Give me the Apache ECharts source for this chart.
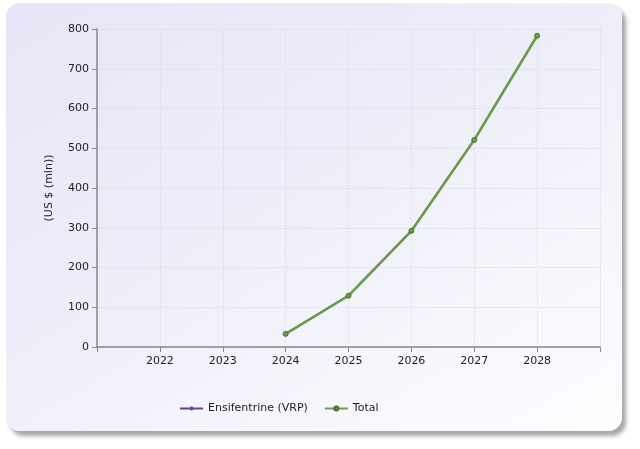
<!DOCTYPE html>
<html>
<head>
<meta charset="utf-8">
<script src="https://cdn.jsdelivr.net/npm/echarts@6/dist/echarts.min.js"></script>
<style>
  html, body { margin:0; padding:0; background:#fff; }
  #wrap { position:relative; width:640px; height:449px; overflow:hidden; }
  #panel {
    position:absolute; left:6px; top:3px; width:616px; height:428px;
    border-radius:14px;
    background:linear-gradient(150deg, #e5e5f7 0%, #efeffa 50%, #fdfdff 100%);
    box-shadow:4px 5px 4px rgba(0,0,0,0.35);
  }
  #chart { position:absolute; left:0; top:0; width:640px; height:449px; }
</style>
</head>
<body>
<div id="wrap">
  <div id="panel"></div>
  <div id="chart"></div>
</div>
<script>
// 年份（首尾两个只占位，不显示标签）
var years = ['2021', '2022', '2023', '2024', '2025', '2026', '2027', '2028', '2029'];
var ensifentrine = [null, null, null, 33, 129, 292, 521, 783, null];
var total = [null, null, null, 33, 129, 292, 521, 783, null];
var seriesNames = ['Ensifentrine (VRP)', 'Total'];
var colors = ['#6a3fa0', '#6b9e46'];

var fontFamily = 'DejaVu Sans';

var option = {
    color: colors,
    textStyle: {fontFamily: fontFamily},
    legend: {
        data: seriesNames,
        left: 174, top: 398,
        itemWidth: 23, itemHeight: 5, itemGap: 16,
        textStyle: {color:'#222', fontSize:11, fontFamily:fontFamily}
    },
    grid: {left:97, right:40, top:29, bottom:102, containLabel:false},
    xAxis: {
        type: 'category',
        data: years,
        boundaryGap: false,
        axisLine: {lineStyle:{color:'#888', width:1.5}},
        axisTick: {show:true, length:5, lineStyle:{color:'#888'}, interval:0},
        axisLabel: {
            color:'#222', fontSize:11, margin:9, interval:0,
            formatter: function(v, i){ return (i === 0 || i === years.length - 1) ? '' : v; }
        },
        splitLine: {show:true, interval:0, lineStyle:{color:'#dcdce4', type:'dotted'}}
    },
    yAxis: {
        type: 'value',
        min: 0, max: 800, interval: 100,
        name: '(US $ (mln))',
        nameLocation: 'middle',
        nameGap: 42,
        nameTextStyle: {color:'#222', fontSize:11, fontFamily:fontFamily},
        axisLine: {show:true, lineStyle:{color:'#888', width:1.5}},
        axisTick: {show:true, length:5, lineStyle:{color:'#888'}},
        axisLabel: {color:'#222', fontSize:11, margin:8},
        splitLine: {lineStyle:{color:'#dcdce4', type:'dotted'}}
    },
    series: [
        {
            name: seriesNames[0], type: 'line', data: ensifentrine,
            symbol: 'circle', symbolSize: 3,
            lineStyle: {width:2, color:colors[0]},
            itemStyle: {color:colors[0]}
        },
        {
            name: seriesNames[1], type: 'line', data: total,
            symbol: 'circle', symbolSize: 5,
            lineStyle: {width:2.5, color:colors[1]},
            itemStyle: {color:colors[1], borderColor:'#4a6e33', borderWidth:1}
        }
    ]
};
echarts.init(document.getElementById('chart')).setOption(option);
</script>
</body>
</html>
